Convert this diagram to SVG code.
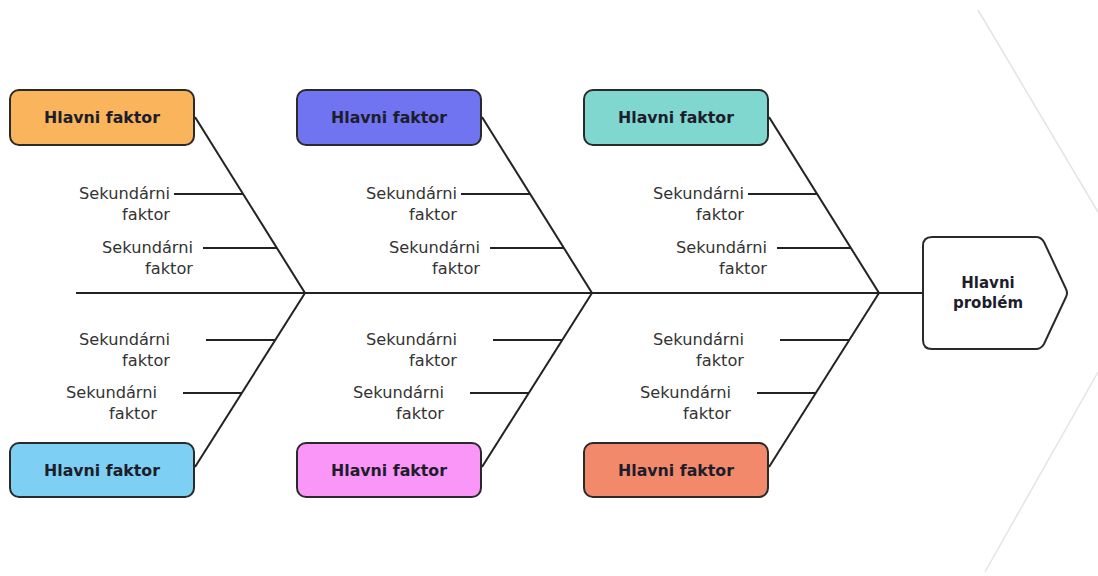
<svg xmlns="http://www.w3.org/2000/svg" width="1098" height="576" viewBox="0 0 1098 576">
<style>
.box{stroke:#2a2a2a;stroke-width:2}
.bt{font-family:"DejaVu Sans",sans-serif;font-weight:bold;font-size:15.8px;fill:#1d1d2b;text-anchor:middle}
.pt{font-family:"DejaVu Sans",sans-serif;font-weight:bold;font-size:15px;fill:#1d1d2b;text-anchor:middle}
.st{font-family:"DejaVu Sans",sans-serif;font-size:16.2px;fill:#333;text-anchor:end}
.ln{stroke:#222;stroke-width:2;fill:none}
</style>
<rect width="1098" height="576" fill="#fff"/>
<g id="bg" stroke="#e4e4e4" stroke-width="1.5" fill="none">
<line x1="978" y1="10" x2="1098" y2="212"/>
<line x1="1098" y1="372" x2="985" y2="572"/>
</g>
<g id="connectors" class="ln">
<line x1="76" y1="293" x2="923" y2="293"/>
<g id="bones-c1">
<line x1="195" y1="117" x2="305" y2="293"/><line x1="305" y1="293" x2="195" y2="467"/>
<line x1="174" y1="194" x2="243" y2="194"/><line x1="203" y1="248" x2="277" y2="248"/>
<line x1="206" y1="340" x2="275" y2="340"/><line x1="183" y1="393" x2="242" y2="393"/>
</g>
<g id="bones-c2" transform="translate(287 0)">
<line x1="195" y1="117" x2="305" y2="293"/><line x1="305" y1="293" x2="195" y2="467"/>
<line x1="174" y1="194" x2="243" y2="194"/><line x1="203" y1="248" x2="277" y2="248"/>
<line x1="206" y1="340" x2="275" y2="340"/><line x1="183" y1="393" x2="242" y2="393"/>
</g>
<g id="bones-c3" transform="translate(574 0)">
<line x1="195" y1="117" x2="305" y2="293"/><line x1="305" y1="293" x2="195" y2="467"/>
<line x1="174" y1="194" x2="243" y2="194"/><line x1="203" y1="248" x2="277" y2="248"/>
<line x1="206" y1="340" x2="275" y2="340"/><line x1="183" y1="393" x2="242" y2="393"/>
</g>
</g>
<g id="secondary-c1">
<text class="st" x="170" y="199">Sekundárni</text><text class="st" x="170" y="220">faktor</text>
<text class="st" x="193" y="253">Sekundárni</text><text class="st" x="193" y="274">faktor</text>
<text class="st" x="170" y="345">Sekundárni</text><text class="st" x="170" y="366">faktor</text>
<text class="st" x="157" y="398">Sekundárni</text><text class="st" x="157" y="419">faktor</text>
</g>
<g id="secondary-c2" transform="translate(287 0)">
<text class="st" x="170" y="199">Sekundárni</text><text class="st" x="170" y="220">faktor</text>
<text class="st" x="193" y="253">Sekundárni</text><text class="st" x="193" y="274">faktor</text>
<text class="st" x="170" y="345">Sekundárni</text><text class="st" x="170" y="366">faktor</text>
<text class="st" x="157" y="398">Sekundárni</text><text class="st" x="157" y="419">faktor</text>
</g>
<g id="secondary-c3" transform="translate(574 0)">
<text class="st" x="170" y="199">Sekundárni</text><text class="st" x="170" y="220">faktor</text>
<text class="st" x="193" y="253">Sekundárni</text><text class="st" x="193" y="274">faktor</text>
<text class="st" x="170" y="345">Sekundárni</text><text class="st" x="170" y="366">faktor</text>
<text class="st" x="157" y="398">Sekundárni</text><text class="st" x="157" y="419">faktor</text>
</g>
<g id="factor-orange"><rect class="box" x="10" y="90" width="184" height="55" rx="9" fill="#f9b45c"/><text class="bt" x="102" y="123">Hlavni faktor</text></g>
<g id="factor-purple"><rect class="box" x="297" y="90" width="184" height="55" rx="9" fill="#7074f0"/><text class="bt" x="389" y="123">Hlavni faktor</text></g>
<g id="factor-teal"><rect class="box" x="584" y="90" width="184" height="55" rx="9" fill="#80d7cf"/><text class="bt" x="676" y="123">Hlavni faktor</text></g>
<g id="factor-blue"><rect class="box" x="10" y="443" width="184" height="54" rx="9" fill="#7dd0f3"/><text class="bt" x="102" y="476">Hlavni faktor</text></g>
<g id="factor-pink"><rect class="box" x="297" y="443" width="184" height="54" rx="9" fill="#f996f8"/><text class="bt" x="389" y="476">Hlavni faktor</text></g>
<g id="factor-salmon"><rect class="box" x="584" y="443" width="184" height="54" rx="9" fill="#f2896a"/><text class="bt" x="676" y="476">Hlavni faktor</text></g>
<g id="problem">
<path class="box" fill="#fff" d="M932 237 H1036 Q1041 237 1044 242 L1066 289 Q1068 293 1066 297 L1044 344 Q1041 349 1036 349 H932 Q923 349 923 340 V246 Q923 237 932 237 Z"/>
<text class="pt" x="988" y="288">Hlavni</text>
<text class="pt" x="988" y="308">problém</text>
</g>
</svg>
